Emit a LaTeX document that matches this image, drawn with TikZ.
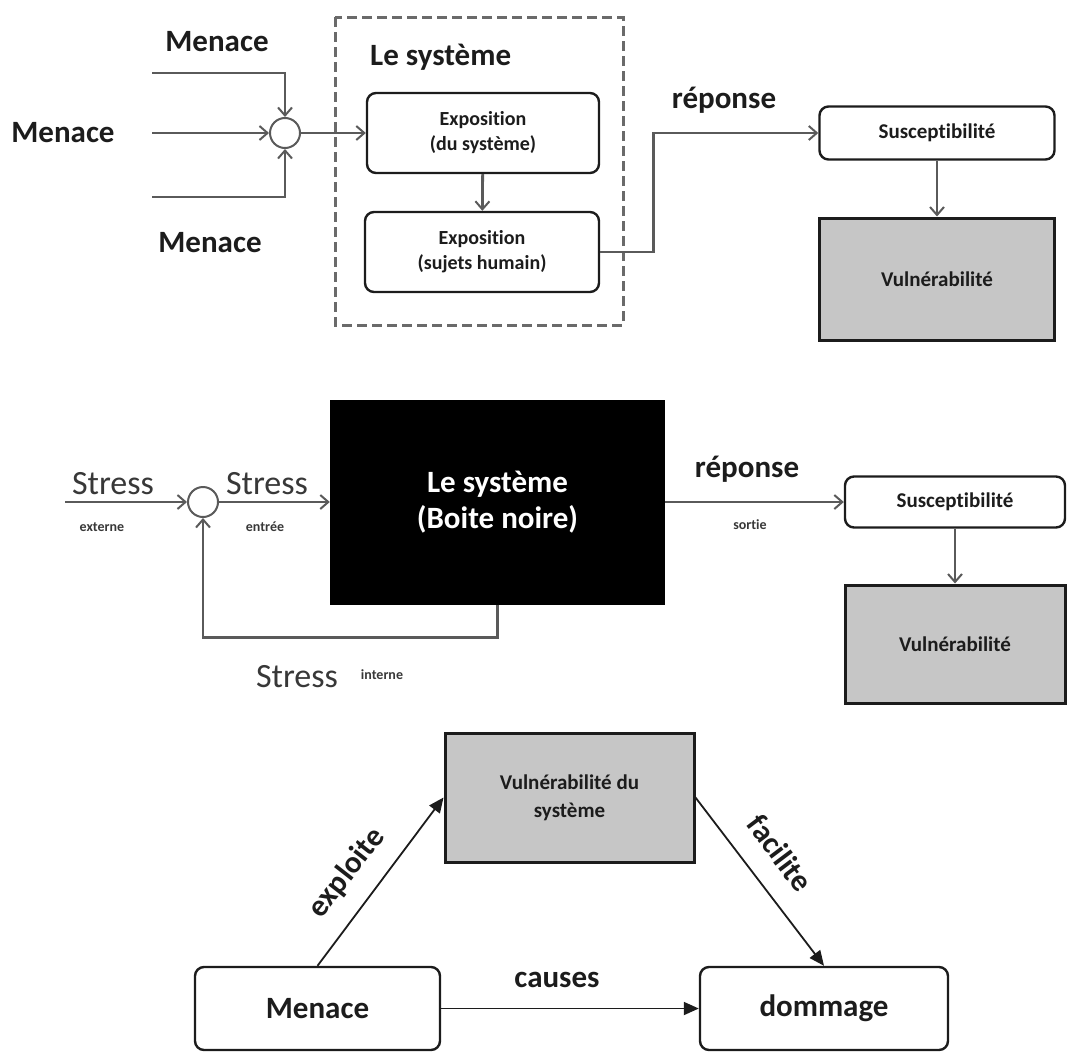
\documentclass[tikz,border=0pt]{standalone}
\usepackage{fontspec}
\setmainfont{Carlito}[Ligatures=NoCommon]
\usepackage{xcolor}
\usepackage{tikz}
\usetikzlibrary{arrows.meta,positioning,calc}
\definecolor{ink}{HTML}{1C1C1C}
\definecolor{wire}{HTML}{5A5A5A}
\definecolor{dashc}{HTML}{6A6A6A}
\definecolor{stressc}{HTML}{383838}
\definecolor{vgray}{HTML}{C6C6C6}
\tikzset{
  x=1pt,y=-1pt,
  rbox/.style={draw=ink,line width=2.4pt,rounded corners=9pt,fill=white,align=center,text=ink,inner sep=0pt},
  vbox/.style={draw=ink,line width=3pt,fill=vgray,align=center,text=ink,inner sep=0pt},
  sumnode/.style={circle,draw=wire,line width=2pt,fill=white,minimum size=30pt,inner sep=0pt},
  bigtxt/.style={font=\bfseries\fontsize{31}{36}\selectfont,text=ink,inner sep=0pt},
  midtxt/.style={font=\bfseries\fontsize{21}{28}\selectfont},
  exptxt/.style={font=\bfseries\fontsize{20}{25}\selectfont},
  smalltxt/.style={font=\bfseries\fontsize{14}{16}\selectfont,text=stressc,inner sep=0pt},
  stresstxt/.style={font=\fontsize{34}{40}\selectfont,text=stressc,inner sep=0pt},
  wirearrow/.style={-{Straight Barb[length=8pt,width=14pt,line width=2pt]},line width=2.8pt,color=wire},
  solidarrow/.style={-{Triangle[length=15pt,width=13pt]},line width=1.8pt,color=ink},
}

\begin{document}
\begin{tikzpicture}
  \useasboundingbox (0,0) rectangle (1067,1052);

  % --- le systeme avec expositions
  \draw[dashc,line width=3pt,dash pattern=on 10pt off 5pt] (335,17) rectangle (623,325);
  \node[bigtxt,anchor=west] (systitle) at (370,57) {Le système};
  \node[rbox,exptxt,minimum width=232pt,minimum height=80pt] (exposys) at (483,133) {Exposition\\(du système)};
  \node[rbox,exptxt,minimum width=234pt,minimum height=80pt] (expohum) at (482,252) {Exposition\\(sujets humain)};
  \node[sumnode] (sumtop) at (285,133) {};
  \coordinate (inA) at (152,73);
  \coordinate (inB) at (152,133);
  \coordinate (inC) at (152,197);
  \node[bigtxt] (menA) at (217,42) {Menace};
  \node[bigtxt] (menB) at (63,133) {Menace};
  \node[bigtxt] (menC) at (210,243) {Menace};
  \node[rbox,midtxt,minimum width=235pt,minimum height=53pt] (susctop) at (937,133) {Susceptibilité};
  \node[vbox,midtxt,minimum width=235pt,minimum height=122pt] (vulntop) at (937,279) {Vulnérabilité};
  \node[bigtxt] (reptop) at (724,100) {réponse};

  \draw[wirearrow] (inA) -| (sumtop);
  \draw[wirearrow] (inB) -- (sumtop);
  \draw[wirearrow] (inC) -| (sumtop);
  \draw[wirearrow] (sumtop) -- (exposys);
  \draw[wirearrow] (exposys) -- (expohum);
  \draw[wirearrow] (expohum.east) -- ++(53,0) |- (susctop.west);
  \draw[wirearrow] (susctop) -- (vulntop);

  % --- boite noire
  \node[fill=black,minimum width=335pt,minimum height=205pt,inner sep=0pt,align=center,
        font=\bfseries\fontsize{31}{36}\selectfont,text=white] (blackbox) at (497.5,502) {Le système\\(Boite noire)};
  \node[sumnode] (summid) at (203,502) {};
  \coordinate (inS) at (65,502);
  \node[stresstxt] (strA) at (113,484) {Stress};
  \node[smalltxt] (extA) at (102,527) {externe};
  \node[stresstxt] (strB) at (267,484) {Stress};
  \node[smalltxt] (entB) at (265,527) {entrée};
  \node[stresstxt] (strC) at (297,677) {Stress};
  \node[smalltxt] (intC) at (382,675) {interne};
  \node[bigtxt] (repmid) at (747,469) {réponse};
  \node[smalltxt] (sortmid) at (750,525) {sortie};
  \node[rbox,midtxt,minimum width=220pt,minimum height=51pt] (suscmid) at (955,502) {Susceptibilité};
  \node[vbox,midtxt,minimum width=220pt,minimum height=118pt] (vulnmid) at (955,644) {Vulnérabilité};

  \draw[wirearrow] (inS) -- (summid);
  \draw[wirearrow] (summid) -- (blackbox);
  \draw[wirearrow] (blackbox.south) -- ++(0,33) -| (summid);
  \draw[wirearrow] (blackbox) -- (suscmid);
  \draw[wirearrow] (suscmid) -- (vulnmid);

  % --- triangle menace / vulnerabilite / dommage
  \node[vbox,midtxt,minimum width=249pt,minimum height=129pt] (vulnsys) at (569.5,797.5) {Vulnérabilité du\\système};
  \node[rbox,bigtxt,minimum width=245pt,minimum height=83pt] (menbox) at (317.5,1008.5) {Menace};
  \node[rbox,bigtxt,minimum width=248pt,minimum height=83pt] (dombox) at (824,1008.5) {dommage};

  \draw[solidarrow] (menbox.north) -- (vulnsys.west);
  \draw[solidarrow] (vulnsys.east) -- (dombox.north);
  \draw[solidarrow] (menbox) -- (dombox);
  \node[bigtxt,rotate=52] (exploitelbl) at (347,873) {exploite};
  \node[bigtxt,rotate=-53] (facilitelbl) at (780,853) {facilite};
  \node[bigtxt] (causeslbl) at (557,980) {causes};
\end{tikzpicture}
\end{document}
